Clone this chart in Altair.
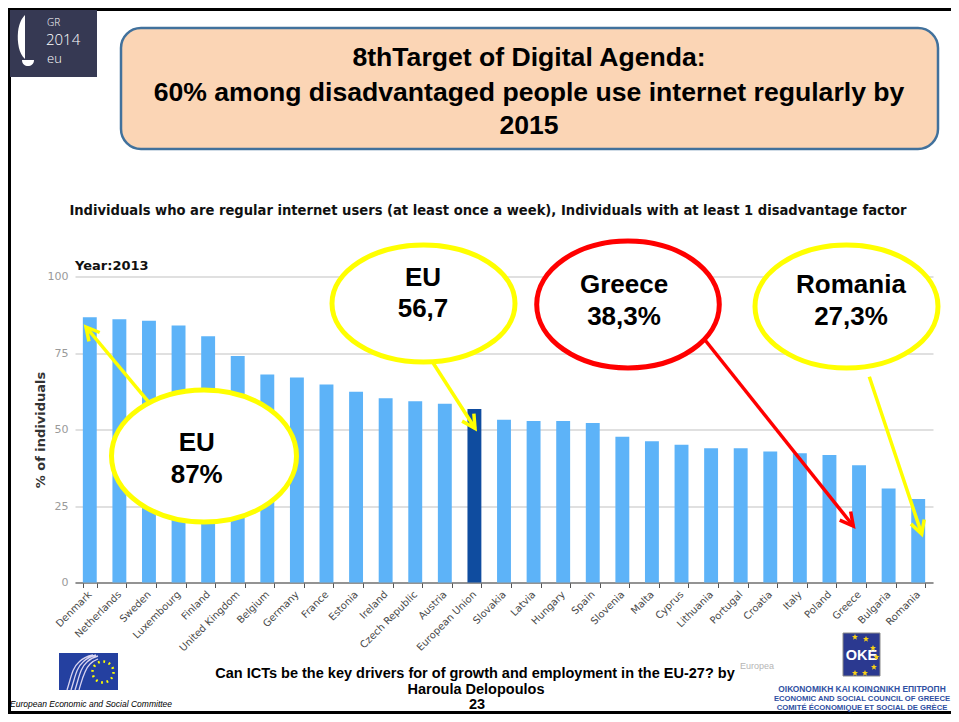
import math
import altair as alt
import pandas as pd

# ---------------- data ----------------
countries = ["Denmark", "Netherlands", "Sweden", "Luxembourg", "Finland",
             "United Kingdom", "Belgium", "Germany", "France", "Estonia",
             "Ireland", "Czech Republic", "Austria", "European Union",
             "Slovakia", "Latvia", "Hungary", "Spain", "Slovenia", "Malta",
             "Cyprus", "Lithuania", "Portugal", "Croatia", "Italy", "Poland",
             "Greece", "Bulgaria", "Romania"]
values = [86.7, 86.0, 85.5, 84.0, 80.5, 74.0, 68.0, 67.0, 64.7, 62.3,
          60.2, 59.2, 58.4, 56.7, 53.2, 52.8, 52.8, 52.1, 47.6, 46.2,
          45.0, 43.9, 43.9, 42.8, 42.2, 41.7, 38.3, 30.7, 27.3]
highlight = "European Union"
y_ticks = [0, 25, 50, 75, 100]

title_lines = ["8thTarget of Digital Agenda:",
               "60% among disadvantaged people use internet regularly by",
               "2015"]
subtitle = ("Individuals who are regular internet users (at least once a week), "
            "Individuals with at least 1 disadvantage factor")
year_label = "Year:2013"
y_title = "% of individuals"
callout_line1 = ["EU", "EU", "Greece", "Romania"]
callout_line2 = ["87%", "56,7", "38,3%", "27,3%"]
footer_lines = ["Can ICTs be the key drivers for of growth and employment in the EU-27? by",
                "Haroula Delopoulos", "23"]
eesc_name = "European Economic and Social Committee"
oke_lines = ["ΟΙΚΟΝΟΜΙΚΗ ΚΑΙ ΚΟΙΝΩΝΙΚΗ ΕΠΙΤΡΟΠΗ",
             "ECONOMIC AND SOCIAL COUNCIL OF GREECE",
             "COMITÉ ÉCONOMIQUE ET SOCIAL DE GRÈCE"]
gr_logo_lines = ["GR", "2014", "eu"]

# ---------------- layout / style ----------------
OX, OY = 75.0, 276.5          # page position of the plot origin
PLOT_W, PLOT_H = 858, 306
LIGHT, DARK = "#5DB3F8", "#0F4C9F"
YELLOW, RED = "#FFFF00", "#FF0000"
ARIAL = "Liberation Sans"
VERD = "DejaVu Sans"


def X(v):
    return v - OX


def Y(v):
    return v - OY


def pxenc():
    return dict(x=alt.X("x:Q", scale=None, axis=None),
                y=alt.Y("y:Q", scale=None, axis=None))


def text_layer(xs, ys, texts, **kw):
    df = pd.DataFrame({"x": [X(v) for v in xs], "y": [Y(v) for v in ys], "t": texts})
    kw.setdefault("baseline", "middle")
    return alt.Chart(df).mark_text(**kw).encode(text="t:N", **pxenc())


def rect_layer(x1, y1, x2, y2, **kw):
    return alt.Chart(pd.DataFrame({"k": [0]})).mark_rect(**kw).encode(
        x=alt.value(X(x1)), x2=alt.value(X(x2)), y=alt.value(Y(y1)), y2=alt.value(Y(y2)))


def rule_layer(x1s, y1s, x2s, y2s, colors, **kw):
    df = pd.DataFrame({"x": [X(v) for v in x1s], "y": [Y(v) for v in y1s],
                       "x2": [X(v) for v in x2s], "y2": [Y(v) for v in y2s], "c": colors})
    return alt.Chart(df).mark_rule(**kw).encode(
        x2="x2:Q", y2="y2:Q",
        stroke=alt.Stroke("c:N", scale=None, legend=None), **pxenc())


def shape_layer(xs, ys, paths, strokes, angles=None, **kw):
    df = pd.DataFrame({"x": [X(v) for v in xs], "y": [Y(v) for v in ys],
                       "p": paths, "c": strokes,
                       "a": angles if angles is not None else [0] * len(xs)})
    kw.setdefault("opacity", 1)
    kw.setdefault("size", 4)   # unit scale: path coordinates are pixels
    return alt.Chart(df).mark_point(**kw).encode(
        shape=alt.Shape("p:N", scale=None, legend=None),
        stroke=alt.Stroke("c:N", scale=None, legend=None),
        angle=alt.Angle("a:Q", scale=None),
        **pxenc())


layers = []

# ---- slide frame
layers.append(rule_layer([8, 9.5, 8], [9.5, 8, 712.5], [951, 9.5, 951], [9.5, 714, 712.5],
                         ["black"] * 3, strokeWidth=3))

# ---- GR2014 logo
layers.append(rect_layer(10, 10, 97, 77, fill="#363953"))
lamp = ("M 0 -23 L 0 21 C -6 16 -8 4 -7 -6 C -6 -15 -3 -20 0 -23 Z "
        "M -3 22 L 9 22 C 9 26 6 28 3 28 C 0 28 -3 26 -3 22 Z")
layers.append(shape_layer([25], [38], [lamp], ["white"], filled=True, fill="white", strokeWidth=0))
layers.append(text_layer([47], [23], [gr_logo_lines[0]], align="left",
                         font="Open Sans", fontSize=10, color="white", fontWeight=300))
layers.append(text_layer([46], [40], [gr_logo_lines[1]], align="left",
                         font="Open Sans", fontSize=15, color="white", fontWeight=300))
layers.append(text_layer([47], [59], [gr_logo_lines[2]], align="left",
                         font="Open Sans", fontSize=13, color="white", fontWeight=300))

# ---- title box
layers.append(rect_layer(121, 28, 938, 149, fill="#FBD5B5", stroke="#41719C",
                         strokeWidth=2.5, cornerRadius=20))
layers.append(text_layer([529, 529, 529], [58, 93, 126], title_lines, align="center",
                         font=ARIAL, fontSize=26.6, fontWeight="bold", color="black"))

# ---- subtitle and year
layers.append(text_layer([488], [211], [subtitle], align="center",
                         font="DejaVu Sans Condensed, DejaVu Sans", fontSize=14.6,
                         fontWeight="bold", color="#111111"))
layers.append(text_layer([75], [266], [year_label], align="left",
                         font=VERD, fontSize=13, fontWeight="bold", color="#111111"))

# ---- bars
bars_df = pd.DataFrame({"country": countries, "value": values,
                        "group": ["EU" if c == highlight else "Country" for c in countries]})
bars = alt.Chart(bars_df).mark_bar().encode(
    x=alt.X("country:N", sort=countries,
            scale=alt.Scale(paddingInner=0.53, paddingOuter=0.265),
            axis=alt.Axis(title=None, labelAngle=315, labelAlign="right",
                          labelBaseline="middle", labelFont=VERD, labelFontSize=10,
                          labelColor="#4a4a4a", labelPadding=5, tickBand="extent",
                          tickSize=5, tickColor="#555555", domainColor="#7a7a7a",
                          domainWidth=1.5, grid=False, labelOverlap=False)),
    y=alt.Y("value:Q", scale=alt.Scale(domain=[0, 100], nice=False),
            axis=alt.Axis(values=y_ticks, title=y_title, titleFont=VERD,
                          titleFontSize=13, titleFontWeight="bold", titleColor="#333333",
                          titleX=-35, titleY=PLOT_H / 2, titleAlign="center",
                          titleBaseline="middle", labelFont=VERD, labelFontSize=11,
                          labelColor="#9a9a9a", labelPadding=7, ticks=False, domain=False,
                          gridColor="#d6d6d6", gridWidth=1.5)),
    color=alt.Color("group:N", scale=alt.Scale(domain=["Country", "EU"], range=[LIGHT, DARK]),
                    legend=None),
)
layers.append(bars)

# ---- callout ellipses
ell_cx = [204, 423.5, 628, 846.5]
ell_cy = [456, 303.5, 304.5, 306.5]
ell_rx = [92.5, 91.5, 91.3, 91.5]
ell_ry = [66, 58.5, 63.5, 61.5]
ell_col = [YELLOW, YELLOW, RED, YELLOW]
ell_paths = [f"M {-a} 0 A {a} {b} 0 1 0 {a} 0 A {a} {b} 0 1 0 {-a} 0 Z"
             for a, b in zip(ell_rx, ell_ry)]
layers.append(shape_layer(ell_cx, ell_cy, ell_paths, ell_col, filled=True,
                          fill="white", strokeWidth=5))

# ---- arrows
arr_x1 = [148.3, 433.3, 705.0, 869.3]
arr_y1 = [401.7, 363.3, 340.0, 376.7]
arr_x2 = [86.0, 475.0, 853.3, 921.7]
arr_y2 = [327.0, 428.3, 526.0, 534.0]
arr_col = [YELLOW, YELLOW, RED, YELLOW]
arr_ang = [math.degrees(math.atan2(y2 - y1, x2 - x1)) % 360
           for x1, y1, x2, y2 in zip(arr_x1, arr_y1, arr_x2, arr_y2)]
layers.append(rule_layer(arr_x1, arr_y1, arr_x2, arr_y2, arr_col, strokeWidth=3.5))
head = "M -13 -7 L 0 0 L -13 7"
layers.append(shape_layer(arr_x2, arr_y2, [head] * 4, arr_col, angles=arr_ang,
                          filled=False, strokeWidth=3.5, strokeJoin="miter"))

# ---- callout texts
lab_x = [196.7, 423, 624, 851]
layers.append(text_layer(lab_x, [443, 278, 285, 285], callout_line1, align="center",
                         font=ARIAL, fontSize=26, fontWeight="bold", color="black"))
layers.append(text_layer(lab_x, [475, 309, 317, 317], callout_line2, align="center",
                         font=ARIAL, fontSize=26, fontWeight="bold", color="black"))

# ---- footer
layers.append(text_layer([475, 476, 477], [674, 690, 705], footer_lines, align="center",
                         font=ARIAL, fontSize=14.5, fontWeight="bold", color="black"))
layers.append(text_layer([740], [666], ["Europea"], align="left", font=ARIAL,
                         fontSize=9, color="#b5b5b5"))
layers.append(text_layer([10], [704], [eesc_name], align="left", font=ARIAL,
                         fontSize=8.5, fontStyle="italic", color="black"))

# EESC logo
layers.append(rect_layer(59, 653, 118, 690, fill="#2440A0"))
layers.append(shape_layer([103], [672], ["circle"], [YELLOW], filled=False, size=441,
                          strokeWidth=2.5, strokeDash=[1.8, 3.7]))
waves = ("M -14 18 C -10 6 -9 -4 -2 -10 C 2 -14 7 -16 12 -17 "
         "M -10 18 C -6 6 -5 -4 2 -10 C 6 -14 11 -16 15 -17 "
         "M -6 18 C -2 6 -1 -4 6 -10 C 9 -13 13 -15 17 -16 "
         "M -2 18 C 1 8 3 -2 9 -8 C 11 -10 14 -12 17 -13")
layers.append(shape_layer([81], [672], [waves], ["#d8d3f0"], filled=False, strokeWidth=1.3))

# OKE logo
layers.append(rect_layer(843, 633, 880, 676, fill="#2B3990", stroke="#8a8a8a", strokeWidth=1))
layers.append(text_layer([861.5], [656], ["ΟΚΕ"], align="center",
                         font=ARIAL, fontSize=14.5, fontWeight="bold", color="white"))
star = ("M 0 -3 L 0.9 -0.9 L 3 -0.9 L 1.3 0.5 L 1.9 2.8 L 0 1.4 "
        "L -1.9 2.8 L -1.3 0.5 L -3 -0.9 L -0.9 -0.9 Z")
st_x = [855, 866, 873, 876.5, 874, 865, 855]
st_y = [637, 639, 648, 657, 667, 673, 673]
layers.append(shape_layer(st_x, st_y, [star] * 7, ["#F7D117"] * 7, filled=True,
                          fill="#F7D117", strokeWidth=0))
layers.append(text_layer([862], [689], [oke_lines[0]], align="center",
                         font=ARIAL, fontSize=8.4, fontWeight="bold", color="#2F4FA2"))
layers.append(text_layer([862, 862], [699, 708], oke_lines[1:], align="center",
                         font=ARIAL, fontSize=7.7, fontWeight="bold", color="#2F4FA2"))

chart = alt.layer(*layers).properties(
    width=PLOT_W, height=PLOT_H,
    padding={"left": OX - 8, "top": OY - 8, "right": 18, "bottom": 706 - (OY - 8) - PLOT_H},
    autosize=alt.AutoSizeParams(type="none"),
    background="white",
).configure_view(stroke=None)

chart.save("out.html", embed_options={"renderer": "svg", "actions": False})
